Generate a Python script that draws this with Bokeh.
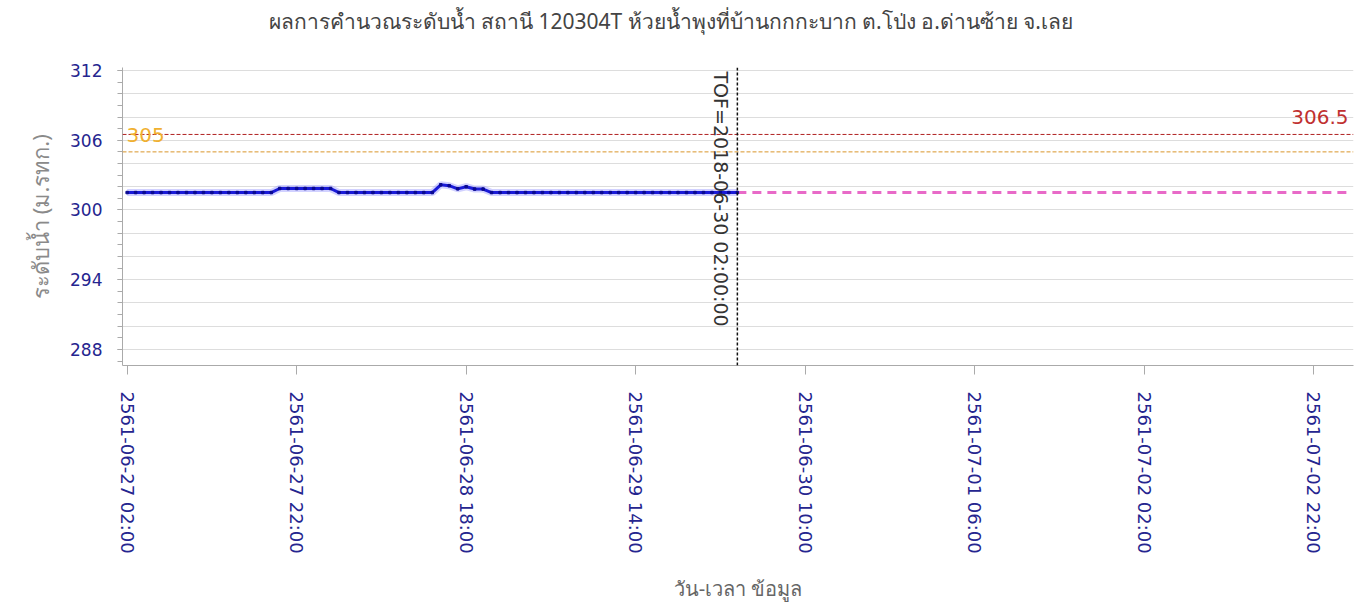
import math
from bokeh.plotting import figure
from bokeh.models import Range1d, FixedTicker, Span, Label
from bokeh.embed import file_html
from bokeh.resources import INLINE

title_text = "ผลการคำนวณระดับน้ำ สถานี 120304T ห้วยน้ำพุงที่บ้านกกกะบาก ต.โป่ง อ.ด่านซ้าย จ.เลย"
y_label = "ระดับน้ำ (ม.รทก.)"
x_label = "วัน-เวลา ข้อมูล"

# hours since 2561-06-27 02:00
tick_hours = [0, 20, 40, 60, 80, 100, 120, 140]
tick_labels = ["2561-06-27 02:00", "2561-06-27 22:00", "2561-06-28 18:00",
               "2561-06-29 14:00", "2561-06-30 10:00", "2561-07-01 06:00",
               "2561-07-02 02:00", "2561-07-02 22:00"]
y_ticks = [288, 294, 300, 306, 312]

obs_hours = list(range(0, 73))
obs_level = [301.5, 301.5, 301.5, 301.5, 301.5, 301.5, 301.5, 301.5, 301.5, 301.5,
             301.5, 301.5, 301.5, 301.5, 301.5, 301.5, 301.5, 301.5,
             301.85, 301.85, 301.85, 301.85, 301.85, 301.85, 301.85,
             301.5, 301.5, 301.5, 301.5, 301.5, 301.5, 301.5, 301.5, 301.5, 301.5,
             301.5, 301.5,
             302.17, 302.09, 301.82, 302.0, 301.8, 301.8,
             301.5, 301.5, 301.5, 301.5, 301.5, 301.5, 301.5, 301.5, 301.5, 301.5,
             301.5, 301.5, 301.5, 301.5, 301.5, 301.5, 301.5, 301.5, 301.5, 301.5,
             301.5, 301.5, 301.5, 301.5, 301.5, 301.5, 301.5, 301.5, 301.5, 301.5]

fc_hours = [72, 78, 84, 90, 96, 102, 108, 114, 120, 126, 132, 138, 144]
fc_level = [301.5, 301.5, 301.5, 301.5, 301.5, 301.5, 301.5, 301.5, 301.5, 301.5,
            301.5, 301.5, 301.5]

thresholds = [306.5, 305.0]
threshold_colors = ["#b02020", "#d9962a"]
threshold_label_colors = ["#c03030", "#f0b030"]

tof_hour = 72
tof_text = "TOF=2018-06-30 02:00:00"

X0, X1 = -0.55, 144.7
Y0, Y1 = 286.62, 312.26

p = figure(width=1357, height=607, output_backend="svg", toolbar_location=None,
           x_range=Range1d(X0, X1), y_range=Range1d(Y0, Y1),
           min_border_left=122, min_border_right=4, min_border_top=67,
           min_border_bottom=242)
p.outline_line_color = None
p.background_fill_color = "white"
p.border_fill_color = "white"

# title: one blank line below it lifts it towards the top of the page
p.title.text = title_text + "\n "
p.title.align = "left"
p.title.vertical_align = "top"
p.title.offset = 146
p.title.standoff = 6
p.title.text_font = "Noto Sans"
p.title.text_font_size = "21px"
p.title.text_font_style = "normal"
p.title.text_color = "#444444"

# axes
p.xaxis.ticker = FixedTicker(ticks=tick_hours)
p.xaxis.major_label_overrides = {h: l for h, l in zip(tick_hours, tick_labels)}
p.xaxis.major_label_orientation = "vertical"
p.xaxis.major_label_text_font = "DejaVu Sans"
p.xaxis.major_label_text_font_size = "18px"
p.xaxis.major_label_text_color = "#25258f"
p.xaxis.major_tick_out = 9
p.xaxis.major_tick_in = 0
p.xaxis.major_label_standoff = 17
p.xaxis.axis_line_color = "#aaaaaa"
p.xaxis.major_tick_line_color = "#aaaaaa"
p.xaxis.minor_tick_line_color = None
p.xaxis.axis_label = x_label
p.xaxis.axis_label_text_font = "Noto Sans"
p.xaxis.axis_label_text_font_size = "20px"
p.xaxis.axis_label_text_font_style = "normal"
p.xaxis.axis_label_text_color = "#666666"
p.xaxis.axis_label_standoff = 18

p.yaxis.ticker = FixedTicker(ticks=y_ticks, minor_ticks=list(range(287, 313)))
p.yaxis.major_label_text_font = "DejaVu Sans"
p.yaxis.major_label_text_font_size = "17px"
p.yaxis.major_label_text_color = "#25258f"
p.yaxis.major_tick_out = 5
p.yaxis.major_tick_in = 0
p.yaxis.minor_tick_out = 5
p.yaxis.minor_tick_in = 0
p.yaxis.major_label_standoff = 15
p.yaxis.axis_line_color = "#aaaaaa"
p.yaxis.major_tick_line_color = "#aaaaaa"
p.yaxis.minor_tick_line_color = "#aaaaaa"
p.yaxis.axis_label = y_label
p.yaxis.axis_label_text_font = "Noto Sans"
p.yaxis.axis_label_text_font_size = "22px"
p.yaxis.axis_label_text_font_style = "normal"
p.yaxis.axis_label_text_color = "#8a8a8a"
p.yaxis.axis_label_standoff = 12

p.xgrid.visible = False
p.ygrid.ticker = FixedTicker(ticks=list(range(288, 313, 2)))
p.ygrid.grid_line_color = "#dddddd"
p.ygrid.grid_line_width = 1

# thresholds
for v, c, lc, side in zip(thresholds, threshold_colors, threshold_label_colors, ["right", "left"]):
    p.add_layout(Span(location=v, dimension="width", line_color=c, line_width=1,
                      line_dash="4 2"))
    if side == "right":
        lab = Label(x=X1, y=v, x_offset=-5, y_offset=10, text=f"{v:g}",
                    text_align="right", text_baseline="bottom",
                    text_color=lc, text_font="DejaVu Sans", text_font_size="20px")
    else:
        lab = Label(x=X0, y=v, x_offset=4, y_offset=10, text=f"{v:g}",
                    text_align="left", text_baseline="bottom",
                    text_color=lc, text_font="DejaVu Sans", text_font_size="20px")
    p.add_layout(lab)

# forecast
p.line(fc_hours, fc_level, line_color="#e86ac8", line_width=3, line_dash="9 6")

# observed
p.line(obs_hours, obs_level, line_color="#9999ff", line_width=7, line_alpha=0.45)
p.line(obs_hours, obs_level, line_color="#1a1ad8", line_width=3)
p.scatter(obs_hours, obs_level, marker="square", size=2.5, color="#0a0a90")

# TOF line
p.add_layout(Span(location=tof_hour, dimension="height", line_color="#111111",
                  line_width=1.5, line_dash="3 2"))
p.add_layout(Label(x=tof_hour, y=Y1, x_offset=-5, y_offset=-4, text=tof_text,
                   angle=-math.pi / 2, text_align="left", text_baseline="top",
                   text_color="#333333", text_font="DejaVu Sans",
                   text_font_size="19px"))

open("out.html", "w").write(file_html(p, INLINE))
